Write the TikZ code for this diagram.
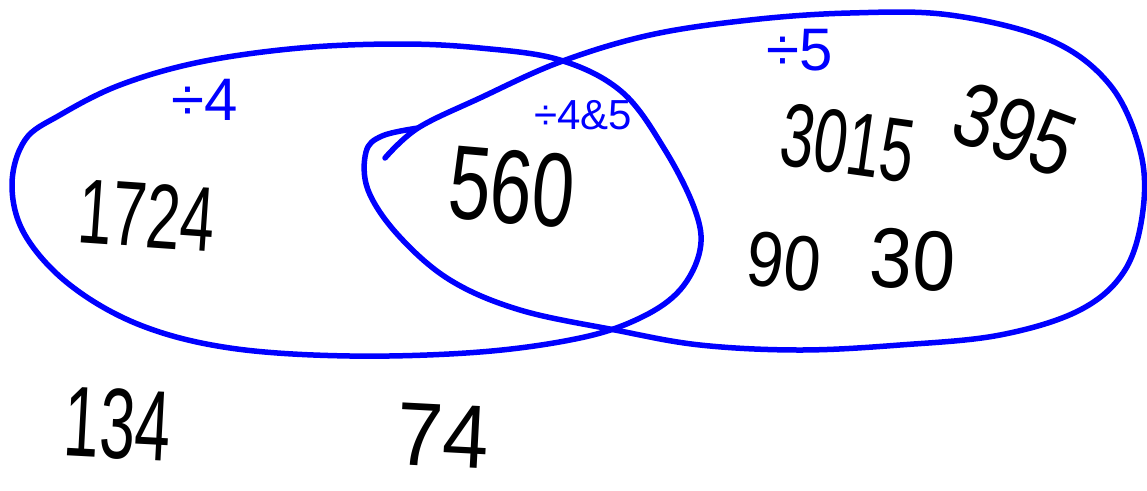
\documentclass[tikz,border=0pt]{standalone}
\usepackage{fontspec}
\setmainfont{Liberation Sans}
\begin{document}
\begin{tikzpicture}[x=1pt,y=-1pt,
  ring/.style={draw=blue, line width=5.5pt, line cap=round, line join=round},
  num/.style={inner sep=0pt, text=black},
  lab/.style={inner sep=0pt, text=blue}]
\useasboundingbox[fill=white] (0,0) rectangle (1147,490);
% left set (divisible by 4)
\draw[ring] plot[smooth cycle, tension=0.6] coordinates {
  (12,185) (25,140) (60,115) (120,85) (200,62) (300,48) (400,44) (480,48)
  (560,60) (622,92) (665,150) (695,210) (700,250) (680,290) (640,318)
  (580,338) (480,352) (350,356) (230,348) (140,325) (70,285) (25,235)};
% right set (divisible by 5)
\draw[ring] plot[smooth, tension=0.6] coordinates {
  (385,158) (418,128) (480,98) (560,62) (650,35) (750,20) (850,13) (950,15)
  (1050,40) (1110,85) (1140,150) (1143,210) (1125,270) (1080,310) (1000,335)
  (900,345) (800,350) (700,345) (615,330) (520,310) (450,280) (398,235)
  (368,190) (366,152) (382,136) (418,128)};
% set labels
\node[lab, font=\fontsize{60}{60}\selectfont] (l4) at (205,100) {÷4};
\node[lab, font=\fontsize{42}{42}\selectfont] (l45) at (583,115) {÷4\&5};
\node[lab, font=\fontsize{60}{60}\selectfont] (l5) at (800,50) {÷5};
% numbers
\node[num, rotate=-4] (n1724) at (147,215) {\scalebox{0.67}[1]{\fontsize{92}{92}\selectfont 1724}};
\node[num, rotate=-5] (n560) at (512,187) {\scalebox{0.72}[1]{\fontsize{105}{105}\selectfont 560}};
\node[num, rotate=-8] (n3015) at (848,143) {\scalebox{0.67}[1]{\fontsize{90}{90}\selectfont 3015}};
\node[num, rotate=-20] (n395) at (1015,130) {\scalebox{0.8}[1]{\fontsize{90}{90}\selectfont 395}};
\node[num, rotate=-6] (n90) at (784,262) {\scalebox{0.85}[1]{\fontsize{78}{78}\selectfont 90}};
\node[num, rotate=-3] (n30) at (913,260) {\scalebox{0.9}[1]{\fontsize{85}{85}\selectfont 30}};
\node[num, rotate=-3] (n134) at (118,424) {\scalebox{0.64}[1]{\fontsize{100}{100}\selectfont 134}};
\node[num, rotate=-3] (n74) at (443,436) {\scalebox{0.92}[1]{\fontsize{90}{90}\selectfont 74}};
\end{tikzpicture}
\end{document}
